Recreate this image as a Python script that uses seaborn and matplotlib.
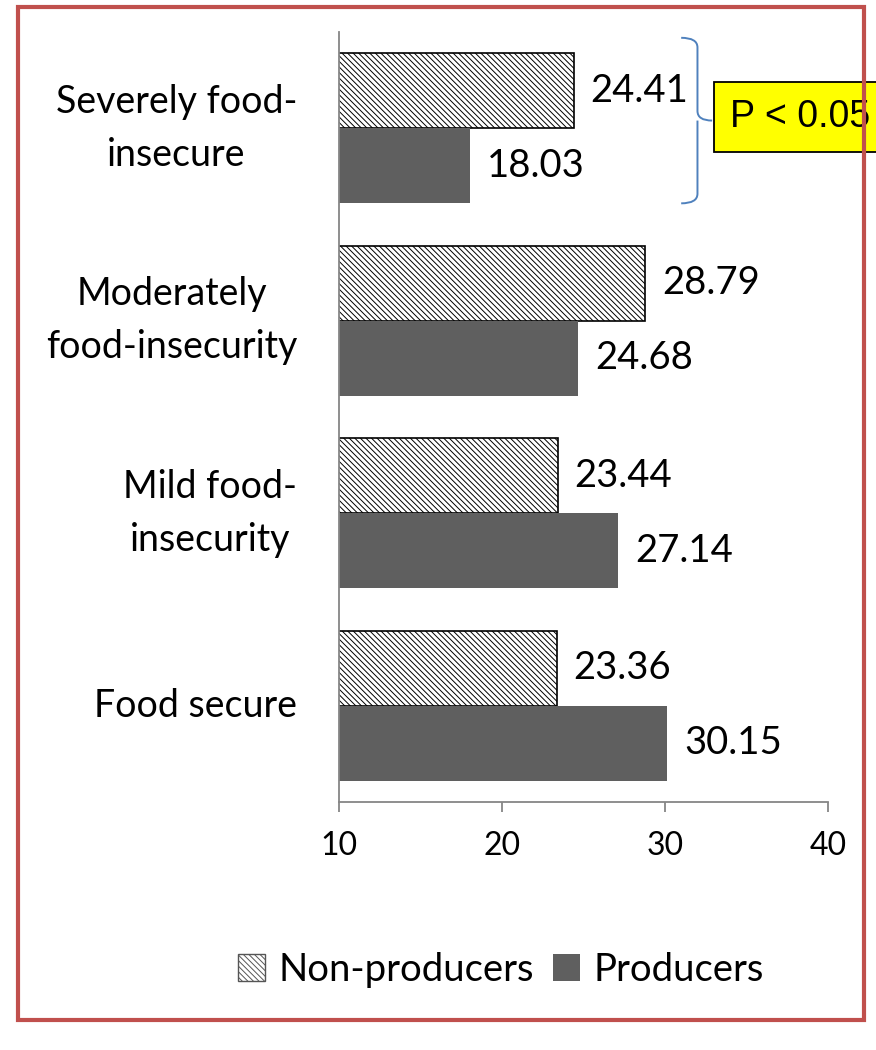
import matplotlib.pyplot as plt
import pandas as pd
import seaborn as sns
from matplotlib.patches import Patch, PathPatch, Rectangle
from matplotlib.path import Path

# Chart data
categories = [
    "Severely food-\ninsecure",
    "Moderately\nfood-insecurity",
    "Mild food-\ninsecurity",
    "Food secure",
]
groups = ["Non-producers", "Producers"]
non_producers = [24.41, 28.79, 23.44, 23.36]
producers = [18.03, 24.68, 27.14, 30.15]
x_ticks = [10, 20, 30, 40]
p_label = "P < 0.05"

df = pd.DataFrame(
    {
        "category": categories * 2,
        "group": [groups[0]] * 4 + [groups[1]] * 4,
        "value": non_producers + producers,
    }
)

sns.set_style("white")
plt.rcParams["font.family"] = ["Lato", "DejaVu Sans"]
plt.rcParams["hatch.linewidth"] = 0.7
plt.rcParams["text.color"] = "black"
plt.rcParams["xtick.labelcolor"] = "black"
plt.rcParams["ytick.labelcolor"] = "black"

axis_gray = "#868686"
dark = "#5F5F5F"
hatch = "\\\\\\\\\\\\"

fig = plt.figure(figsize=(8.76, 10.5), dpi=100)
ax = fig.add_axes([0.387, 0.2362, 0.558, 0.7333])

sns.barplot(
    data=df,
    x="value",
    y="category",
    hue="group",
    orient="h",
    palette={groups[0]: "white", groups[1]: dark},
    width=0.78,
    saturation=1,
    legend=False,
    ax=ax,
)

# Style the bars: hatched with edge for non-producers, plain gray for producers
for bar in ax.containers[0]:
    bar.set_hatch(hatch)
    bar.set_edgecolor("black")
    bar.set_linewidth(1.2)
for bar in ax.containers[1]:
    bar.set_edgecolor("none")
    bar.set_linewidth(0)

for cont in ax.containers:
    ax.bar_label(cont, fmt="%.2f", padding=12, fontsize=27.5, color="black")

# Axes
ax.set_xlim(x_ticks[0], x_ticks[-1])
ax.set_xticks(x_ticks)
ax.set_ylim(len(categories) - 0.5, -0.5)
ax.set_yticks(range(len(categories)), labels=categories)
ax.set_yticks([i - 0.5 for i in range(len(categories) + 1)], minor=True)
for lbl in ax.get_yticklabels():
    lbl.set_multialignment("center")
    lbl.set_linespacing(1.6)
    lbl.set_verticalalignment("center")
ax.set_xlabel("")
ax.set_ylabel("")

sns.despine(ax=ax)
for side in ["left", "bottom"]:
    ax.spines[side].set_color(axis_gray)
    ax.spines[side].set_linewidth(1.3)
ax.tick_params(axis="y", which="major", length=0, pad=30, labelsize=27)
ax.tick_params(axis="y", which="minor", length=11, width=1.3, color=axis_gray, direction="out")
ax.tick_params(axis="x", which="major", length=7, width=1.3, color=axis_gray, pad=14, labelsize=23, direction="out")
ax.tick_params(left=True, bottom=True)
ax.tick_params(axis="y", which="major", left=False)

# Significance brace around the first group
y_top, y_bot = -0.47, 0.39
y_mid = (y_top + y_bot) / 2
x0, x1, x2 = 31.0, 32.0, 32.9
r = 0.05
verts = [
    (x0, y_top), (x1, y_top), (x1, y_top + r),
    (x1, y_mid - r), (x1, y_mid), (x2, y_mid),
    (x1, y_mid), (x1, y_mid + r),
    (x1, y_bot - r), (x1, y_bot), (x0, y_bot),
]
codes = [
    Path.MOVETO, Path.CURVE3, Path.CURVE3,
    Path.LINETO, Path.CURVE3, Path.CURVE3,
    Path.MOVETO, Path.LINETO,
    Path.LINETO, Path.CURVE3, Path.CURVE3,
]
brace = PathPatch(Path(verts, codes), facecolor="none", edgecolor="#4F81BD",
                  linewidth=1.4, transform=ax.transData, clip_on=False)
ax.add_patch(brace)
box_pad = 0.45
p_size = 27
ax.annotate(p_label, xy=(x2, y_mid - 0.02), xytext=(box_pad * p_size + 1, 0), textcoords="offset points",
            family=["Liberation Sans", "DejaVu Sans"], fontsize=p_size, color="black",
            ha="left", va="center", annotation_clip=False,
            bbox=dict(boxstyle=f"square,pad={box_pad}", facecolor="#FFFF00", edgecolor="black", linewidth=1.3))

# Legend
handles = [
    Patch(facecolor="white", edgecolor="#555555", hatch=hatch, linewidth=1.0, label=groups[0]),
    Patch(facecolor=dark, edgecolor="none", label=groups[1]),
]
fig.legend(handles=handles, loc="center", bbox_to_anchor=(0.572, 0.076), ncol=2,
           frameon=False, fontsize=27.5, handlelength=0.7, handleheight=0.7,
           handletextpad=0.35, columnspacing=0.5)

# Red outer frame
fig.add_artist(Rectangle((0.0205, 0.0286), 0.9658, 0.9648, transform=fig.transFigure,
                         facecolor="none", edgecolor="#C0504D", linewidth=3, zorder=10))

fig.savefig("out.png", dpi=100)
